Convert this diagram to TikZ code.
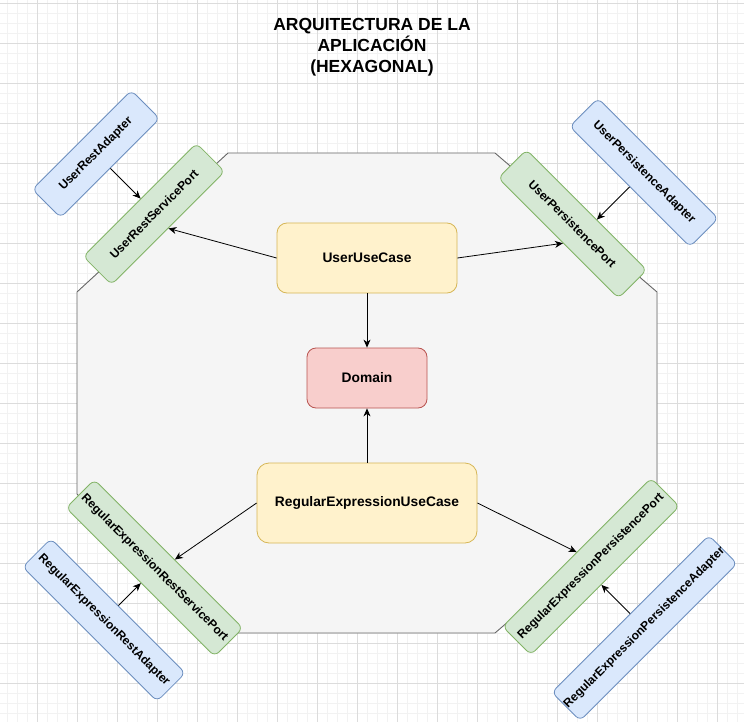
\documentclass[tikz,border=0pt]{standalone}
\usepackage{fontspec}
\setmainfont{Liberation Sans}
\usetikzlibrary{arrows.meta,calc}
\definecolor{gridminor}{HTML}{F2F2F2}
\definecolor{gridmajor}{HTML}{DCDCDC}
\definecolor{octfill}{HTML}{F5F5F5}
\definecolor{octdraw}{HTML}{666666}
\definecolor{bluefill}{HTML}{DAE8FC}
\definecolor{bluedraw}{HTML}{6C8EBF}
\definecolor{greenfill}{HTML}{D5E8D4}
\definecolor{greendraw}{HTML}{82B366}
\definecolor{yellowfill}{HTML}{FFF2CC}
\definecolor{yellowdraw}{HTML}{D6B656}
\definecolor{redfill}{HTML}{F8CECC}
\definecolor{reddraw}{HTML}{B85450}
\tikzset{
  basebox/.style={draw, line width=0.8pt, inner sep=0pt, align=center},
  adapterbox/.style={basebox, fill=bluefill, draw=bluedraw, minimum height=40pt, rounded corners=6pt, font=\bfseries\fontsize{12}{14}\selectfont},
  portbox/.style={basebox, fill=greenfill, draw=greendraw, minimum height=40pt, rounded corners=6pt, font=\bfseries\fontsize{12}{14}\selectfont},
  usecasebox/.style={basebox, fill=yellowfill, draw=yellowdraw, rounded corners=10pt, font=\bfseries\fontsize{13.8}{16}\selectfont},
  domainbox/.style={basebox, fill=redfill, draw=reddraw, rounded corners=9pt, font=\bfseries\fontsize{13.8}{16}\selectfont},
  conn/.style={line width=0.8pt, -{Stealth[length=8pt,width=7pt,inset=2.5pt]}},
}
\begin{document}
\begin{tikzpicture}[x=1pt,y=-1pt]
\useasboundingbox (0,0) rectangle (744,722);
\fill[white] (0,0) rectangle (744,722);
% grid
\foreach \gx in {7,17,...,737} \draw[gridminor, line width=0.8pt] (\gx,0) -- (\gx,722);
\foreach \gy in {3,13,...,713} \draw[gridminor, line width=0.8pt] (0,\gy) -- (744,\gy);
\foreach \gx in {37,77,...,717} \draw[gridmajor, line width=0.8pt] (\gx,0) -- (\gx,722);
\foreach \gy in {3,43,...,703} \draw[gridmajor, line width=0.8pt] (0,\gy) -- (744,\gy);
% octagon
\draw[fill=octfill, draw=octdraw, line width=0.9pt] (228,153) -- (495,153) -- (657,292) -- (657,494) -- (495,633) -- (228,633) -- (77,494) -- (77,292) -- cycle;
% title
\node[align=center, font=\bfseries\fontsize{17.5}{21}\selectfont] (title) at (372,47) {ARQUITECTURA DE LA\\APLICACIÓN\\(HEXAGONAL)};
% central nodes
\node[usecasebox, minimum width=180pt, minimum height=70pt] (uuc) at (367,258) {UserUseCase};
\node[domainbox, minimum width=120pt, minimum height=60pt] (dom) at (367,378) {Domain};
\node[usecasebox, minimum width=220pt, minimum height=80pt, rounded corners=12pt] (reuc) at (367,503) {RegularExpressionUseCase};
% ports and adapters
\node[portbox, minimum width=160pt, rotate=45] (ursp) at (154,214) {UserRestServicePort};
\node[adapterbox, minimum width=140pt, rotate=45] (ura) at (96,154) {UserRestAdapter};
\node[portbox, minimum width=170pt, rotate=-45] (upp) at (572.5,224) {UserPersistencePort};
\node[adapterbox, minimum width=170pt, rotate=-45] (upa) at (644,172.5) {UserPersistenceAdapter};
\node[portbox, minimum width=210pt, rotate=-45] (rersp) at (154.5,568) {RegularExpressionRestServicePort};
\node[adapterbox, minimum width=190pt, rotate=-45] (rera) at (104,620) {RegularExpressionRestAdapter};
\node[portbox, minimum width=210pt, rotate=45] (repp) at (591,566.5) {RegularExpressionPersistencePort};
\node[adapterbox, minimum width=222pt, rotate=45] (repa) at (644.5,628) {RegularExpressionPersistenceAdapter};
% connectors
\draw[conn] (uuc.south) -- (dom.north);
\draw[conn] (reuc.north) -- (dom.south);
\draw[conn] (uuc.west) -- (ursp.south);
\draw[conn] (uuc.east) -- ($(upp.south)!0.08!(upp.south east)$);
\draw[conn] (reuc.west) -- ($(rersp.north)!0.08!(rersp.north east)$);
\draw[conn] (reuc.east) -- (repp.north);
\draw[conn] (ura.south) -- ($(ursp.north west)!(ura.south)!(ursp.north east)$);
\draw[conn] (upa.south) -- ($(upp.north west)!(upa.south)!(upp.north east)$);
\draw[conn] (rera.north) -- ($(rersp.south west)!(rera.north)!(rersp.south east)$);
\draw[conn] (repa.north) -- ($(repp.south west)!(repa.north)!(repp.south east)$);
\end{tikzpicture}
\end{document}
